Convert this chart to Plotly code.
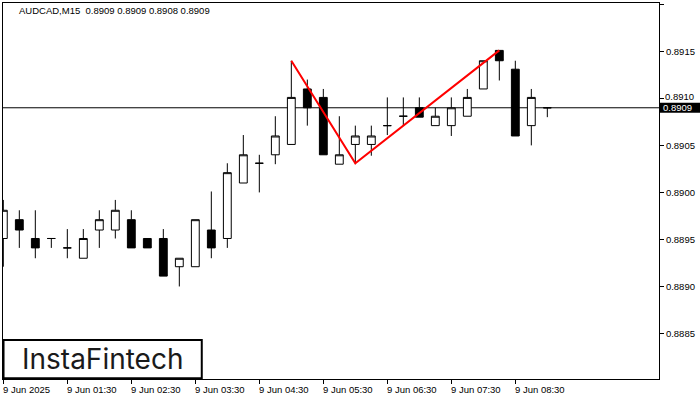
import plotly.graph_objects as go

times = ["00:30", "00:45", "01:00", "01:15", "01:30", "01:45", "02:00", "02:15",
         "02:30", "02:45", "03:00", "03:15", "03:30", "03:45", "04:00", "04:15",
         "04:30", "04:45", "05:00", "05:15", "05:30", "05:45", "06:00", "06:15",
         "06:30", "06:45", "07:00", "07:15", "07:30", "07:45", "08:00", "08:15",
         "08:30", "08:45", "09:00"]

opens = [0.88951, 0.88971, 0.88951, 0.88951, 0.88941, 0.88930, 0.88960, 0.88960,
         0.88971, 0.88951, 0.88951, 0.88921, 0.88921, 0.88960, 0.88951, 0.89010,
         0.89031, 0.89040, 0.89051, 0.89110, 0.89101, 0.89030, 0.89051, 0.89051,
         0.89071, 0.89081, 0.89090, 0.89071, 0.89071, 0.89081, 0.89110, 0.89151,
         0.89131, 0.89071, 0.89090]
highs = [0.88992, 0.88981, 0.88981, 0.88951, 0.88961, 0.88961, 0.88981, 0.88992,
         0.88981, 0.88951, 0.88961, 0.88930, 0.88971, 0.89001, 0.89031, 0.89061,
         0.89040, 0.89081, 0.89140, 0.89120, 0.89110, 0.89081, 0.89071, 0.89071,
         0.89101, 0.89101, 0.89101, 0.89090, 0.89101, 0.89110, 0.89140, 0.89151,
         0.89140, 0.89110, 0.89090]
lows = [0.88921, 0.88941, 0.88930, 0.88941, 0.88930, 0.88930, 0.88941, 0.88951,
        0.88941, 0.88941, 0.88911, 0.88900, 0.88921, 0.88930, 0.88941, 0.89010,
        0.89000, 0.89030, 0.89051, 0.89071, 0.89040, 0.89030, 0.89030, 0.89039,
        0.89061, 0.89071, 0.89080, 0.89071, 0.89060, 0.89081, 0.89110, 0.89119,
        0.89060, 0.89050, 0.89080]
closes = [0.88981, 0.88960, 0.88941, 0.88951, 0.88941, 0.88951, 0.88971, 0.88981,
          0.88941, 0.88941, 0.88911, 0.88930, 0.88971, 0.88941, 0.89021, 0.89040,
          0.89031, 0.89060, 0.89101, 0.89090, 0.89040, 0.89040, 0.89060, 0.89060,
          0.89071, 0.89081, 0.89080, 0.89081, 0.89090, 0.89101, 0.89140, 0.89140,
          0.89060, 0.89101, 0.89090]

tick_idx = [0, 4, 8, 12, 16, 20, 24, 28, 32]
tick_labels = ["9 Jun 2025", "9 Jun 01:30", "9 Jun 02:30", "9 Jun 03:30", "9 Jun 04:30",
               "9 Jun 05:30", "9 Jun 06:30", "9 Jun 07:30", "9 Jun 08:30"]

pattern_idx = [18, 22, 31]
pattern_price = [0.89140, 0.89031, 0.89151]

current_price = 0.8909
title_text = "AUDCAD,M15  0.8909 0.8909 0.8908 0.8909"
y_ticks = [0.8885, 0.8890, 0.8895, 0.8900, 0.8905, 0.8910, 0.8915, 0.8920]
y_tick_labels = ["0.8885", "0.8890", "0.8895", "0.8900", "0.8905", "0.8910", "0.8915", "0.8920"]

x = list(range(len(times)))
FONT = "Liberation Sans"

fig = go.Figure()
fig.add_trace(go.Candlestick(
    x=x, open=opens, high=highs, low=lows, close=closes,
    increasing=dict(line=dict(color="black", width=1), fillcolor="white"),
    decreasing=dict(line=dict(color="black", width=1), fillcolor="black"),
    whiskerwidth=0, showlegend=False, hoverinfo="skip",
))
fig.add_trace(go.Scatter(
    x=pattern_idx, y=pattern_price, mode="lines",
    line=dict(color="#ff0000", width=2), showlegend=False, hoverinfo="skip",
))

fig.add_shape(type="line", xref="paper", x0=0, x1=1, yref="y",
              y0=current_price, y1=current_price,
              line=dict(color="black", width=1), layer="below")

# current price box on the right axis
fig.add_shape(type="rect", xref="paper", xsizemode="pixel", xanchor=1, x0=1, x1=42,
              yref="y", ysizemode="pixel", yanchor=current_price, y0=-5, y1=5,
              line=dict(width=0), fillcolor="black", layer="above")

# logo box
fig.add_shape(type="rect", xref="paper", yref="paper",
              x0=0.0008, x1=0.303, y0=0.002, y1=0.1037,
              line=dict(color="black", width=2), fillcolor="white", layer="above")

# y tick labels with the one next to the price box nudged up (as in the reference)
shown_ticktext = [("" if v == 0.8910 else t) for v, t in zip(y_ticks, y_tick_labels)]

annotations = []
for i, lab in zip(tick_idx, tick_labels):
    annotations.append(dict(x=i, xref="x", y=0, yref="paper", yanchor="top",
                            xanchor="left", xshift=-2, yshift=-3, text=lab,
                            showarrow=False,
                            font=dict(family=FONT, size=9.5, color="black")))
for v, t in zip(y_ticks, y_tick_labels):
    if v == 0.8910:
        annotations.append(dict(x=1, xref="paper", xanchor="left", xshift=5,
                                y=v, yref="y", yanchor="middle", yshift=2,
                                text=t, showarrow=False, borderpad=0,
                                font=dict(family=FONT, size=9.5, color="black")))
annotations.append(dict(x=0.022, xref="paper", y=0.979, yref="paper",
                        xanchor="left", yanchor="middle", text=title_text,
                        showarrow=False,
                        font=dict(family=FONT, size=9.5, color="black")))
annotations.append(dict(x=1, xref="paper", xanchor="left", xshift=3,
                        y=current_price, yref="y", yanchor="middle",
                        text=f"{current_price:.4f}", showarrow=False, borderpad=0,
                        font=dict(family=FONT, size=9.5, color="white")))
annotations.append(dict(x=0.1517, xref="paper", y=0.053, yref="paper",
                        xanchor="center", yanchor="middle", text="InstaFintech",
                        showarrow=False,
                        font=dict(family="Inter", size=28, color="#1a1a1a")))

fig.update_layout(
    width=700, height=400,
    margin=dict(l=3, r=41, t=3, b=21),
    paper_bgcolor="white", plot_bgcolor="white",
    showlegend=False,
    annotations=annotations,
    xaxis=dict(range=[-0.02, 40.98], showgrid=False, zeroline=False,
               showline=True, linecolor="black", linewidth=1, mirror=True,
               ticks="outside", ticklen=4, tickcolor="black",
               tickvals=tick_idx, showticklabels=False,
               rangeslider=dict(visible=False), fixedrange=True),
    yaxis=dict(range=[0.888016, 0.892014], side="right", showgrid=False,
               zeroline=False, showline=True, linecolor="black", linewidth=1,
               mirror=True, ticks="outside", ticklen=4, tickcolor="black",
               tickvals=y_ticks, ticktext=shown_ticktext,
               tickfont=dict(family=FONT, size=9.5, color="black"),
               fixedrange=True),
)

fig.write_html("out.html", config={"displayModeBar": False},
               post_script="document.body.style.margin='0';document.body.style.overflow='hidden';")
